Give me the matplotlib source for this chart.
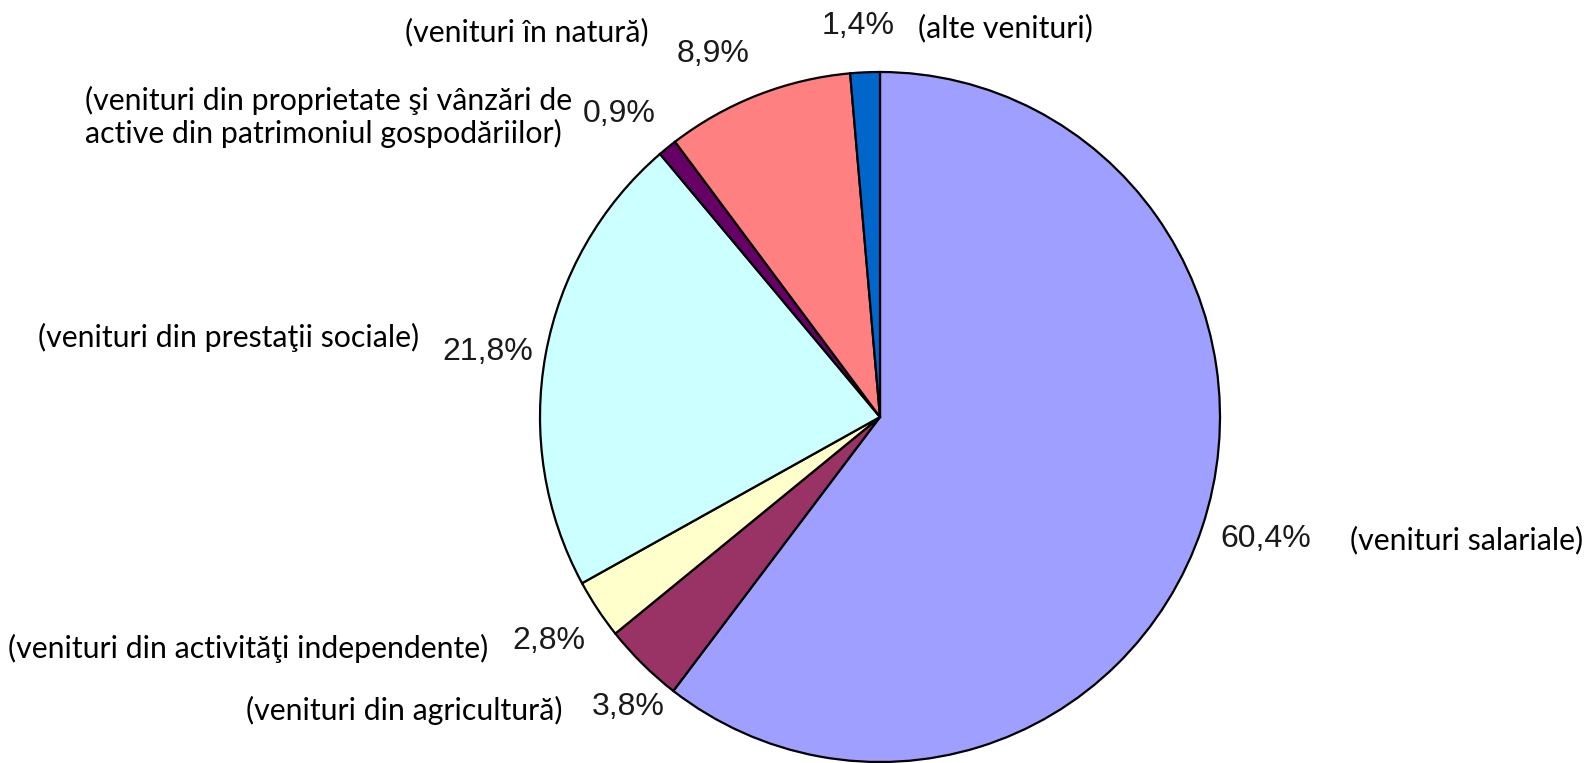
import matplotlib
matplotlib.use("Agg")
import matplotlib.pyplot as plt

# data, clockwise from 12 o'clock
categories = [
    "(venituri salariale)",
    "(venituri din agricultură)",
    "(venituri din activităţi independente)",
    "(venituri din prestaţii sociale)",
    "(venituri din proprietate şi vânzări de\nactive din patrimoniul gospodăriilor)",
    "(venituri în natură)",
    "(alte venituri)",
]
shares = [60.4, 3.8, 2.8, 21.8, 0.9, 8.9, 1.4]
colors = ["#9f9fff", "#993366", "#ffffcc", "#ccffff", "#660066", "#ff8080", "#0066cc"]

# layout in pixels (x from left, y from top)
W, H = 1587, 763
cx, cy, rx, ry = 880, 417, 340, 345
# (x, y, ha) for percentage and for category text
pct_pos = [(1220, 535, "left"), (592, 703, "left"), (585, 637, "right"),
           (442, 348, "left"), (583, 110, "left"), (677, 50, "left"), (822, 22, "left")]
name_pos = [(1350, 540, "left"), (563, 710, "right"), (8, 648, "left"),
            (38, 337, "left"), (85, 117, "left"), (405, 32, "left"), (918, 28, "left")]


def px(x, y):
    # pixel position -> data coords of the pie axes
    return (x - cx) / rx, (cy - y) / ry


fig = plt.figure(figsize=(W / 100, H / 100), dpi=100)
ax = fig.add_axes([0, 0, 1, 1])
ax.pie(shares, colors=colors, startangle=90, counterclock=False,
       wedgeprops=dict(edgecolor="black", linewidth=1.6))
ax.set_aspect("auto")
ax.set_xlim((0 - cx) / rx, (W - cx) / rx)
ax.set_ylim((cy - H) / ry, cy / ry)
ax.axis("off")

for v, (x, y, ha) in zip(shares, pct_pos):
    label = f"{v:.1f}".replace(".", ",") + "%"
    ax.text(*px(x, y + 12), label, ha=ha, va="baseline",
            fontsize=23, family="Liberation Sans", color="#1a1a1a")

for name, (x, y, ha) in zip(categories, name_pos):
    ax.text(*px(x, y), name, ha=ha, va="center", fontsize=21.8,
            family="Lato", color="black", linespacing=1.15)

fig.savefig("out.png", dpi=100, facecolor="white")
